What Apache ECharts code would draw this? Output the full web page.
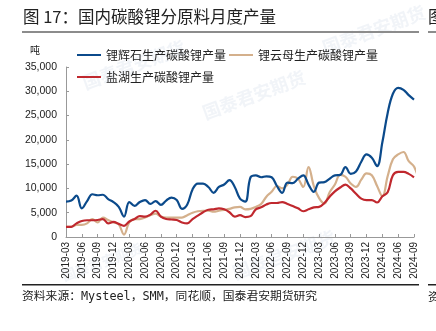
<!DOCTYPE html>
<html>
<head>
<meta charset="utf-8">
<script src="https://cdn.jsdelivr.net/npm/echarts@6/dist/echarts.min.js"></script>
<style>
html,body{margin:0;padding:0;background:#fff;}
#c{width:436px;height:331px;}
</style>
</head>
<body>
<div id="c"></div>
<script>
const months = [
"2019-03","2019-04","2019-05","2019-06","2019-07","2019-08","2019-09","2019-10","2019-11","2019-12",
"2020-01","2020-02","2020-03","2020-04","2020-05","2020-06","2020-07","2020-08","2020-09","2020-10","2020-11","2020-12",
"2021-01","2021-02","2021-03","2021-04","2021-05","2021-06","2021-07","2021-08","2021-09","2021-10","2021-11","2021-12",
"2022-01","2022-02","2022-03","2022-04","2022-05","2022-06","2022-07","2022-08","2022-09","2022-10","2022-11","2022-12",
"2023-01","2023-02","2023-03","2023-04","2023-05","2023-06","2023-07","2023-08","2023-09","2023-10","2023-11","2023-12",
"2024-01","2024-02","2024-03","2024-04","2024-05","2024-06","2024-07","2024-08","2024-09"
];
const spodumene = [
7300,7500,8500,5900,7400,8800,8600,8700,7800,7200,
6200,4200,7200,6400,7200,7600,6800,7400,6600,7500,8100,
7600,5800,6700,9800,11000,11000,10300,9100,10300,10800,
11700,10300,7900,7300,12300,12700,12300,12500,12300,10500,
9100,11200,11100,12000,12700,10800,9300,11200,11300,12000,
12700,12800,14400,13000,13500,15500,17000,16300,14600,19500,
25500,29500,30700,30300,29200,28300
];
const lepidolite = [
2100,2100,2500,2500,2800,3700,3000,4000,3500,3000,
2600,500,3000,3700,3700,4000,4500,4800,4200,4000,4000,
4000,4000,4500,5000,5300,5400,5400,5200,5400,5600,
5800,6100,6200,5700,5800,6200,6800,8300,9300,10500,
10000,10800,12400,12000,10300,14400,10500,8000,6900,9200,
10800,12800,12400,11000,10300,11800,13100,12700,10500,8400,
12500,16000,17000,17500,15600,14500,11500
];
const brine = [
2100,2100,2800,3300,3450,3450,3500,3700,2800,3100,
2700,2300,3200,3700,4300,4200,4600,5400,4200,3700,3600,
3500,3000,2800,3700,4400,5100,5600,5700,5900,5700,
5100,4200,4500,4100,4300,5700,6100,6700,7000,7000,
7200,6800,6400,5900,5300,5700,6100,6200,7000,8300,
9400,10200,10800,10000,8900,7900,7600,7600,7100,8400,
9200,12700,13400,13400,13000,12300
];
const yTicks = {min:0, max:35000, step:5000};
const seriesNames = ["锂辉石生产碳酸锂产量","锂云母生产碳酸锂产量","盐湖生产碳酸锂产量"];
const colors = ["#0B4A8B","#D4B08C","#C0282E"];

const chart = echarts.init(document.getElementById('c'), null, {renderer:'canvas'});
const cjk = '"Noto Sans CJK SC", sans-serif';
const latin = '"Liberation Sans", Arial, sans-serif';
function txt(x, y, s, font, align){
  return {type:'text', x:x, y:y, z:10,
    style:{text:s, font:font, fill:'#222', textAlign:align||'left', textVerticalAlign:'middle'}};
}
function wm(x, y, s){
  return {type:'text', x:x, y:y, rotation:0.35, z:-1,
    style:{text:'国泰君安期货', font:'bold '+s+'px '+cjk, fill:'rgba(190,205,225,0.22)'}};
}
const option = {
  animation:false,
  backgroundColor:'#fff',
  graphic:[
    txt(23, 17, '图 17：国内碳酸锂分原料月度产量', '16.5px '+cjk),
    {type:'rect', shape:{x:22,y:31,width:397,height:2}, style:{fill:'#8c8c8c'}},
    {type:'rect', shape:{x:428,y:31,width:10,height:2}, style:{fill:'#8c8c8c'}},
    txt(428, 17, '图', '16.5px '+cjk),
    {type:'rect', shape:{x:22,y:284,width:397,height:1.5}, style:{fill:'#222'}},
    {type:'rect', shape:{x:428,y:284,width:10,height:1.5}, style:{fill:'#222'}},
    txt(22, 297, '资料来源：Mysteel，SMM，同花顺，国泰君安期货研究', '11.8px "DejaVu Sans Mono", '+cjk),
    txt(428, 297, '资', '11.8px '+cjk),
    txt(30, 50, '吨', '10px '+cjk),
    wm(80,75,18), wm(200,105,18), wm(320,40,18), wm(230,265,18), wm(60,270,14)
  ],
  legend:[
    {data:[seriesNames[0],seriesNames[1]], left:72, top:44, itemWidth:24, itemHeight:2, itemGap:3,
      icon:'rect', textStyle:{fontFamily:cjk, fontSize:12, color:'#222'}},
    {data:[seriesNames[2]], left:72, top:66, itemWidth:24, itemHeight:2, icon:'rect',
      textStyle:{fontFamily:cjk, fontSize:12, color:'#222'}}
  ],
  grid:{left:66, right:22, top:67, bottom:94, containLabel:false},
  xAxis:{type:'category', data:months, boundaryGap:false,
    axisLine:{lineStyle:{color:'#999'}},
    axisTick:{interval:2, inside:true, length:3, lineStyle:{color:'#999'}},
    axisLabel:{interval:2, rotate:90, fontFamily:latin, fontSize:10, color:'#222', margin:5}},
  yAxis:{type:'value', min:yTicks.min, max:yTicks.max, interval:yTicks.step,
    splitLine:{show:false},
    axisLine:{show:true, lineStyle:{color:'#999'}},
    axisTick:{show:true, inside:true, length:3, lineStyle:{color:'#999'}},
    axisLabel:{fontFamily:latin, fontSize:10.5, color:'#222', margin:9}},
  series:[
    {name:seriesNames[0], type:'line', data:spodumene, smooth:0.4, showSymbol:false, lineStyle:{width:2.2, color:colors[0]}, itemStyle:{color:colors[0]}, z:3},
    {name:seriesNames[1], type:'line', data:lepidolite, smooth:0.4, showSymbol:false, lineStyle:{width:2.2, color:colors[1]}, itemStyle:{color:colors[1]}, z:1},
    {name:seriesNames[2], type:'line', data:brine, smooth:0.4, showSymbol:false, lineStyle:{width:2.2, color:colors[2]}, itemStyle:{color:colors[2]}, z:2}
  ]
};
chart.setOption(option);
</script>
</body>
</html>
